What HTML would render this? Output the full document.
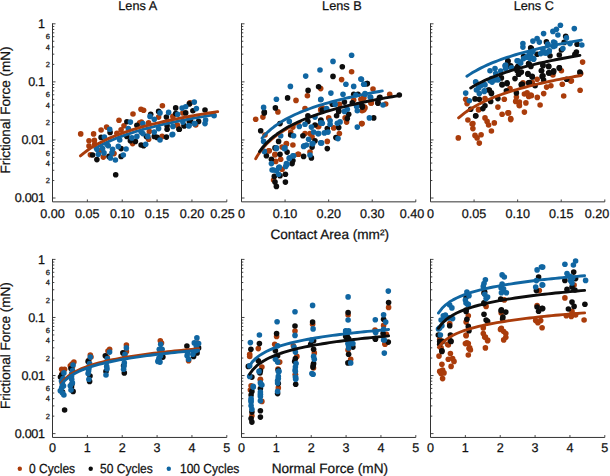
<!DOCTYPE html>
<html><head><meta charset="utf-8"><style>
html,body{margin:0;padding:0;background:#fff;}
svg{display:block;}
text{font-family:"Liberation Sans", sans-serif;fill:#111;stroke:#111;stroke-width:0.25px;text-rendering:geometricPrecision;}
</style></head><body>
<svg width="610" height="476" viewBox="0 0 610 476">
<path d="M52.50 23.30V201.85H226.80" fill="none" stroke="#333333" stroke-width="1"/>
<path d="M52.50 23.80h3 M52.50 81.87h3 M52.50 139.94h3 M52.50 198.01h3 M52.50 64.39h1.8 M52.50 54.16h1.8 M52.50 46.91h1.8 M52.50 41.28h1.8 M52.50 36.68h1.8 M52.50 32.80h1.8 M52.50 29.43h1.8 M52.50 26.46h1.8 M52.50 122.46h1.8 M52.50 112.23h1.8 M52.50 104.98h1.8 M52.50 99.35h1.8 M52.50 94.75h1.8 M52.50 90.87h1.8 M52.50 87.50h1.8 M52.50 84.53h1.8 M52.50 180.53h1.8 M52.50 170.30h1.8 M52.50 163.05h1.8 M52.50 157.42h1.8 M52.50 152.82h1.8 M52.50 148.94h1.8 M52.50 145.57h1.8 M52.50 142.60h1.8 M87.36 201.85v-2.4 M122.22 201.85v-2.4 M157.08 201.85v-2.4 M191.94 201.85v-2.4 M226.80 201.85v-2.4" fill="none" stroke="#333333" stroke-width="0.9"/>
<text x="52.50" y="218.20" text-anchor="middle" font-size="12.6">0.00</text>
<text x="87.36" y="218.20" text-anchor="middle" font-size="12.6">0.05</text>
<text x="122.22" y="218.20" text-anchor="middle" font-size="12.6">0.10</text>
<text x="157.08" y="218.20" text-anchor="middle" font-size="12.6">0.15</text>
<text x="191.94" y="218.20" text-anchor="middle" font-size="12.6">0.20</text>
<text x="222.50" y="218.20" text-anchor="middle" font-size="12.6">0.25</text>
<text x="44.6" y="27.91" text-anchor="end" font-size="12.6" letter-spacing="-0.35">1</text>
<text x="44.6" y="85.98" text-anchor="end" font-size="12.6" letter-spacing="-0.35">0.1</text>
<text x="44.6" y="144.05" text-anchor="end" font-size="12.6" letter-spacing="-0.35">0.01</text>
<text x="44.6" y="202.12" text-anchor="end" font-size="12.6" letter-spacing="-0.35">0.001</text>
<text x="49.9" y="67.07" text-anchor="end" font-size="7.5">2</text>
<text x="49.9" y="49.59" text-anchor="end" font-size="7.5">4</text>
<text x="49.9" y="39.37" text-anchor="end" font-size="7.5">6</text>
<text x="49.9" y="125.14" text-anchor="end" font-size="7.5">2</text>
<text x="49.9" y="107.66" text-anchor="end" font-size="7.5">4</text>
<text x="49.9" y="97.44" text-anchor="end" font-size="7.5">6</text>
<text x="49.9" y="183.21" text-anchor="end" font-size="7.5">2</text>
<text x="49.9" y="165.73" text-anchor="end" font-size="7.5">4</text>
<text x="49.9" y="155.51" text-anchor="end" font-size="7.5">6</text>
<path d="M241.50 23.30V201.85H415.80" fill="none" stroke="#333333" stroke-width="1"/>
<path d="M241.50 23.80h3 M241.50 81.87h3 M241.50 139.94h3 M241.50 198.01h3 M241.50 64.39h1.8 M241.50 54.16h1.8 M241.50 46.91h1.8 M241.50 41.28h1.8 M241.50 36.68h1.8 M241.50 32.80h1.8 M241.50 29.43h1.8 M241.50 26.46h1.8 M241.50 122.46h1.8 M241.50 112.23h1.8 M241.50 104.98h1.8 M241.50 99.35h1.8 M241.50 94.75h1.8 M241.50 90.87h1.8 M241.50 87.50h1.8 M241.50 84.53h1.8 M241.50 180.53h1.8 M241.50 170.30h1.8 M241.50 163.05h1.8 M241.50 157.42h1.8 M241.50 152.82h1.8 M241.50 148.94h1.8 M241.50 145.57h1.8 M241.50 142.60h1.8 M285.07 201.85v-2.4 M328.65 201.85v-2.4 M372.23 201.85v-2.4 M415.80 201.85v-2.4" fill="none" stroke="#333333" stroke-width="0.9"/>
<text x="241.50" y="218.20" text-anchor="middle" font-size="12.6">0</text>
<text x="285.07" y="218.20" text-anchor="middle" font-size="12.6">0.10</text>
<text x="328.65" y="218.20" text-anchor="middle" font-size="12.6">0.20</text>
<text x="372.23" y="218.20" text-anchor="middle" font-size="12.6">0.30</text>
<text x="412.00" y="218.20" text-anchor="middle" font-size="12.6">0.40</text>
<path d="M430.50 23.30V201.85H604.80" fill="none" stroke="#333333" stroke-width="1"/>
<path d="M430.50 23.80h3 M430.50 81.87h3 M430.50 139.94h3 M430.50 198.01h3 M430.50 64.39h1.8 M430.50 54.16h1.8 M430.50 46.91h1.8 M430.50 41.28h1.8 M430.50 36.68h1.8 M430.50 32.80h1.8 M430.50 29.43h1.8 M430.50 26.46h1.8 M430.50 122.46h1.8 M430.50 112.23h1.8 M430.50 104.98h1.8 M430.50 99.35h1.8 M430.50 94.75h1.8 M430.50 90.87h1.8 M430.50 87.50h1.8 M430.50 84.53h1.8 M430.50 180.53h1.8 M430.50 170.30h1.8 M430.50 163.05h1.8 M430.50 157.42h1.8 M430.50 152.82h1.8 M430.50 148.94h1.8 M430.50 145.57h1.8 M430.50 142.60h1.8 M474.07 201.85v-2.4 M517.65 201.85v-2.4 M561.23 201.85v-2.4 M604.80 201.85v-2.4" fill="none" stroke="#333333" stroke-width="0.9"/>
<text x="430.50" y="218.20" text-anchor="middle" font-size="12.6">0</text>
<text x="474.07" y="218.20" text-anchor="middle" font-size="12.6">0.05</text>
<text x="517.65" y="218.20" text-anchor="middle" font-size="12.6">0.10</text>
<text x="561.23" y="218.20" text-anchor="middle" font-size="12.6">0.15</text>
<text x="597.00" y="218.20" text-anchor="middle" font-size="12.6">0.20</text>
<path d="M52.50 258.90V437.45H226.80" fill="none" stroke="#333333" stroke-width="1"/>
<path d="M52.50 259.40h3 M52.50 317.47h3 M52.50 375.54h3 M52.50 433.61h3 M52.50 299.99h1.8 M52.50 289.76h1.8 M52.50 282.51h1.8 M52.50 276.88h1.8 M52.50 272.28h1.8 M52.50 268.40h1.8 M52.50 265.03h1.8 M52.50 262.06h1.8 M52.50 358.06h1.8 M52.50 347.83h1.8 M52.50 340.58h1.8 M52.50 334.95h1.8 M52.50 330.35h1.8 M52.50 326.47h1.8 M52.50 323.10h1.8 M52.50 320.13h1.8 M52.50 416.13h1.8 M52.50 405.90h1.8 M52.50 398.65h1.8 M52.50 393.02h1.8 M52.50 388.42h1.8 M52.50 384.54h1.8 M52.50 381.17h1.8 M52.50 378.20h1.8 M87.36 437.45v-2.4 M122.22 437.45v-2.4 M157.08 437.45v-2.4 M191.94 437.45v-2.4 M226.80 437.45v-2.4" fill="none" stroke="#333333" stroke-width="0.9"/>
<text x="52.50" y="452.00" text-anchor="middle" font-size="12.6">0</text>
<text x="87.36" y="452.00" text-anchor="middle" font-size="12.6">1</text>
<text x="122.22" y="452.00" text-anchor="middle" font-size="12.6">2</text>
<text x="157.08" y="452.00" text-anchor="middle" font-size="12.6">3</text>
<text x="191.94" y="452.00" text-anchor="middle" font-size="12.6">4</text>
<text x="226.80" y="452.00" text-anchor="middle" font-size="12.6">5</text>
<text x="44.6" y="263.51" text-anchor="end" font-size="12.6" letter-spacing="-0.35">1</text>
<text x="44.6" y="321.58" text-anchor="end" font-size="12.6" letter-spacing="-0.35">0.1</text>
<text x="44.6" y="379.65" text-anchor="end" font-size="12.6" letter-spacing="-0.35">0.01</text>
<text x="44.6" y="437.72" text-anchor="end" font-size="12.6" letter-spacing="-0.35">0.001</text>
<text x="49.9" y="302.67" text-anchor="end" font-size="7.5">2</text>
<text x="49.9" y="285.19" text-anchor="end" font-size="7.5">4</text>
<text x="49.9" y="274.97" text-anchor="end" font-size="7.5">6</text>
<text x="49.9" y="360.74" text-anchor="end" font-size="7.5">2</text>
<text x="49.9" y="343.26" text-anchor="end" font-size="7.5">4</text>
<text x="49.9" y="333.04" text-anchor="end" font-size="7.5">6</text>
<text x="49.9" y="418.81" text-anchor="end" font-size="7.5">2</text>
<text x="49.9" y="401.33" text-anchor="end" font-size="7.5">4</text>
<text x="49.9" y="391.11" text-anchor="end" font-size="7.5">6</text>
<path d="M241.50 258.90V437.45H415.80" fill="none" stroke="#333333" stroke-width="1"/>
<path d="M241.50 259.40h3 M241.50 317.47h3 M241.50 375.54h3 M241.50 433.61h3 M241.50 299.99h1.8 M241.50 289.76h1.8 M241.50 282.51h1.8 M241.50 276.88h1.8 M241.50 272.28h1.8 M241.50 268.40h1.8 M241.50 265.03h1.8 M241.50 262.06h1.8 M241.50 358.06h1.8 M241.50 347.83h1.8 M241.50 340.58h1.8 M241.50 334.95h1.8 M241.50 330.35h1.8 M241.50 326.47h1.8 M241.50 323.10h1.8 M241.50 320.13h1.8 M241.50 416.13h1.8 M241.50 405.90h1.8 M241.50 398.65h1.8 M241.50 393.02h1.8 M241.50 388.42h1.8 M241.50 384.54h1.8 M241.50 381.17h1.8 M241.50 378.20h1.8 M276.36 437.45v-2.4 M311.22 437.45v-2.4 M346.08 437.45v-2.4 M380.94 437.45v-2.4 M415.80 437.45v-2.4" fill="none" stroke="#333333" stroke-width="0.9"/>
<text x="241.50" y="452.00" text-anchor="middle" font-size="12.6">0</text>
<text x="276.36" y="452.00" text-anchor="middle" font-size="12.6">1</text>
<text x="311.22" y="452.00" text-anchor="middle" font-size="12.6">2</text>
<text x="346.08" y="452.00" text-anchor="middle" font-size="12.6">3</text>
<text x="380.94" y="452.00" text-anchor="middle" font-size="12.6">4</text>
<text x="415.80" y="452.00" text-anchor="middle" font-size="12.6">5</text>
<path d="M430.50 258.90V437.45H604.80" fill="none" stroke="#333333" stroke-width="1"/>
<path d="M430.50 259.40h3 M430.50 317.47h3 M430.50 375.54h3 M430.50 433.61h3 M430.50 299.99h1.8 M430.50 289.76h1.8 M430.50 282.51h1.8 M430.50 276.88h1.8 M430.50 272.28h1.8 M430.50 268.40h1.8 M430.50 265.03h1.8 M430.50 262.06h1.8 M430.50 358.06h1.8 M430.50 347.83h1.8 M430.50 340.58h1.8 M430.50 334.95h1.8 M430.50 330.35h1.8 M430.50 326.47h1.8 M430.50 323.10h1.8 M430.50 320.13h1.8 M430.50 416.13h1.8 M430.50 405.90h1.8 M430.50 398.65h1.8 M430.50 393.02h1.8 M430.50 388.42h1.8 M430.50 384.54h1.8 M430.50 381.17h1.8 M430.50 378.20h1.8 M465.36 437.45v-2.4 M500.22 437.45v-2.4 M535.08 437.45v-2.4 M569.94 437.45v-2.4 M604.80 437.45v-2.4" fill="none" stroke="#333333" stroke-width="0.9"/>
<text x="430.50" y="452.00" text-anchor="middle" font-size="12.6">0</text>
<text x="465.36" y="452.00" text-anchor="middle" font-size="12.6">1</text>
<text x="500.22" y="452.00" text-anchor="middle" font-size="12.6">2</text>
<text x="535.08" y="452.00" text-anchor="middle" font-size="12.6">3</text>
<text x="569.94" y="452.00" text-anchor="middle" font-size="12.6">4</text>
<text x="604.80" y="452.00" text-anchor="middle" font-size="12.6">5</text>
<text x="118.3" y="10.2" font-size="12.7">Lens A</text>
<text x="322.1" y="10.2" font-size="12.7">Lens B</text>
<text x="513.7" y="10.2" font-size="12.7">Lens C</text>
<text x="270.4" y="238.6" font-size="13.6">Contact Area (mm²)</text>
<text x="271.7" y="472.8" font-size="13.6">Normal Force (mN)</text>
<text transform="translate(9.9 110.00) rotate(-90)" text-anchor="middle" font-size="13.5">Frictional Force (mN)</text>
<text transform="translate(9.9 345.60) rotate(-90)" text-anchor="middle" font-size="13.5">Frictional Force (mN)</text>
<circle cx="19.8" cy="468.7" r="2.2" fill="#aa3c0b"/><text transform="translate(29.1 473.3) scale(1 1.1)" font-size="12">0 Cycles</text>
<circle cx="90.7" cy="468.7" r="2.2" fill="#0d0d0d"/><text transform="translate(100.1 473.3) scale(1 1.1)" font-size="12">50 Cycles</text>
<circle cx="168.8" cy="468.7" r="2.2" fill="#1066a2"/><text transform="translate(180 473.3) scale(1 1.1)" font-size="12">100 Cycles</text>
<g fill="#aa3c0b"><circle cx="80.7" cy="133.9" r="2.8"/><circle cx="93.6" cy="133.9" r="2.8"/><circle cx="119" cy="120.3" r="2.8"/><circle cx="133" cy="114" r="2.8"/><circle cx="106.6" cy="127.1" r="2.8"/><circle cx="101.1" cy="130" r="2.8"/><circle cx="89" cy="140.7" r="2.8"/><circle cx="94.4" cy="140.4" r="2.8"/><circle cx="89" cy="146.1" r="2.8"/><circle cx="94.7" cy="144.3" r="2.8"/><circle cx="124" cy="125.7" r="2.8"/><circle cx="121.1" cy="129.7" r="2.8"/><circle cx="116.9" cy="133.3" r="2.8"/><circle cx="139.7" cy="122.9" r="2.8"/><circle cx="90.4" cy="154.7" r="2.8"/><circle cx="103.3" cy="157.1" r="2.8"/><circle cx="114" cy="153.6" r="2.8"/><circle cx="132.6" cy="143.6" r="2.8"/><circle cx="99.7" cy="150.7" r="2.8"/><circle cx="141" cy="109.3" r="2.8"/><circle cx="143.6" cy="110.3" r="2.8"/><circle cx="162.4" cy="105.7" r="2.8"/><circle cx="190" cy="102.9" r="2.8"/><circle cx="158.6" cy="117.1" r="2.8"/><circle cx="148.6" cy="122.9" r="2.8"/><circle cx="172.9" cy="116.4" r="2.8"/><circle cx="182.9" cy="112.9" r="2.8"/><circle cx="177.1" cy="125" r="2.8"/><circle cx="148.6" cy="139.3" r="2.8"/><circle cx="162.1" cy="136.4" r="2.8"/><circle cx="195.7" cy="125" r="2.8"/><circle cx="141.4" cy="122.1" r="2.8"/><circle cx="149.3" cy="131.4" r="2.8"/><circle cx="177.7" cy="125.7" r="2.8"/><circle cx="189.9" cy="103.2" r="2.8"/></g>
<g fill="#0d0d0d"><circle cx="126.9" cy="121.7" r="2.8"/><circle cx="110.1" cy="132.4" r="2.8"/><circle cx="101.1" cy="137.4" r="2.8"/><circle cx="136.9" cy="125.3" r="2.8"/><circle cx="126.9" cy="136.4" r="2.8"/><circle cx="135.4" cy="141.4" r="2.8"/><circle cx="130.4" cy="140.7" r="2.8"/><circle cx="92.6" cy="155" r="2.8"/><circle cx="96.9" cy="159.6" r="2.8"/><circle cx="121.1" cy="156.4" r="2.8"/><circle cx="121.1" cy="148.6" r="2.8"/><circle cx="109" cy="156.4" r="2.8"/><circle cx="141.1" cy="145" r="2.8"/><circle cx="115.7" cy="174.7" r="2.8"/><circle cx="150.7" cy="114.3" r="2.8"/><circle cx="158.6" cy="111.4" r="2.8"/><circle cx="175.7" cy="107.9" r="2.8"/><circle cx="175.7" cy="113.6" r="2.8"/><circle cx="189.3" cy="103.9" r="2.8"/><circle cx="192.9" cy="110.7" r="2.8"/><circle cx="205" cy="110" r="2.8"/><circle cx="166.4" cy="117.1" r="2.8"/><circle cx="185.7" cy="112.9" r="2.8"/><circle cx="167.1" cy="125.7" r="2.8"/><circle cx="167.1" cy="129.3" r="2.8"/><circle cx="179.3" cy="129.3" r="2.8"/><circle cx="184.3" cy="125.7" r="2.8"/><circle cx="189.3" cy="121.4" r="2.8"/><circle cx="198.6" cy="121.4" r="2.8"/><circle cx="154.3" cy="136.4" r="2.8"/><circle cx="157.1" cy="137.4" r="2.8"/><circle cx="166.4" cy="137.1" r="2.8"/><circle cx="146.4" cy="136.4" r="2.8"/><circle cx="143.6" cy="145.7" r="2.8"/><circle cx="190.6" cy="121.4" r="2.8"/><circle cx="184.1" cy="125.7" r="2.8"/><circle cx="179.1" cy="129.3" r="2.8"/></g>
<g fill="#1066a2"><circle cx="130.4" cy="122.1" r="2.8"/><circle cx="109.7" cy="129.3" r="2.8"/><circle cx="104.4" cy="137.1" r="2.8"/><circle cx="128.3" cy="128.6" r="2.8"/><circle cx="131.9" cy="137.9" r="2.8"/><circle cx="136.9" cy="136.4" r="2.8"/><circle cx="119.7" cy="140" r="2.8"/><circle cx="96.9" cy="149.3" r="2.8"/><circle cx="102.6" cy="148.6" r="2.8"/><circle cx="108.3" cy="145.7" r="2.8"/><circle cx="112.6" cy="149.3" r="2.8"/><circle cx="118.3" cy="146.4" r="2.8"/><circle cx="126.1" cy="149" r="2.8"/><circle cx="98.3" cy="154.3" r="2.8"/><circle cx="104" cy="152.9" r="2.8"/><circle cx="111.9" cy="152.9" r="2.8"/><circle cx="110.4" cy="157.9" r="2.8"/><circle cx="115.4" cy="160" r="2.8"/><circle cx="123.3" cy="155" r="2.8"/><circle cx="141.1" cy="132.1" r="2.8"/><circle cx="106.9" cy="144.3" r="2.8"/><circle cx="194.3" cy="102.1" r="2.8"/><circle cx="182.1" cy="108.1" r="2.8"/><circle cx="185.7" cy="106.7" r="2.8"/><circle cx="196.4" cy="108.6" r="2.8"/><circle cx="160" cy="112.9" r="2.8"/><circle cx="168.6" cy="112.4" r="2.8"/><circle cx="150" cy="116.4" r="2.8"/><circle cx="154.3" cy="119.3" r="2.8"/><circle cx="142.9" cy="123.6" r="2.8"/><circle cx="182.9" cy="122.1" r="2.8"/><circle cx="188.6" cy="125.7" r="2.8"/><circle cx="194.3" cy="123.6" r="2.8"/><circle cx="205" cy="123.6" r="2.8"/><circle cx="205.6" cy="120" r="2.8"/><circle cx="172.9" cy="126.4" r="2.8"/><circle cx="158.6" cy="128.6" r="2.8"/><circle cx="154.3" cy="132.1" r="2.8"/><circle cx="142.9" cy="133.6" r="2.8"/><circle cx="147.9" cy="136.4" r="2.8"/><circle cx="172.1" cy="134.7" r="2.8"/><circle cx="160" cy="140" r="2.8"/><circle cx="145.7" cy="144.3" r="2.8"/><circle cx="214.1" cy="115.7" r="2.8"/><circle cx="194.9" cy="123.6" r="2.8"/><circle cx="189.1" cy="125.7" r="2.8"/><circle cx="177.7" cy="114.3" r="2.8"/><circle cx="172.7" cy="134.3" r="2.8"/></g>
<g fill="#aa3c0b"><circle cx="320.7" cy="88.6" r="2.8"/><circle cx="307.4" cy="95.7" r="2.8"/><circle cx="296" cy="100.4" r="2.8"/><circle cx="277.9" cy="111.9" r="2.8"/><circle cx="305" cy="108.6" r="2.8"/><circle cx="262.9" cy="117.1" r="2.8"/><circle cx="255.7" cy="119.3" r="2.8"/><circle cx="292.9" cy="127.1" r="2.8"/><circle cx="290.7" cy="132.1" r="2.8"/><circle cx="305" cy="133.6" r="2.8"/><circle cx="310" cy="133.6" r="2.8"/><circle cx="317.9" cy="126.4" r="2.8"/><circle cx="320.7" cy="110" r="2.8"/><circle cx="265" cy="135" r="2.8"/><circle cx="286.4" cy="143.6" r="2.8"/><circle cx="292.9" cy="145" r="2.8"/><circle cx="282.1" cy="147.1" r="2.8"/><circle cx="269.3" cy="150.7" r="2.8"/><circle cx="275" cy="155" r="2.8"/><circle cx="310" cy="152.1" r="2.8"/><circle cx="297.9" cy="154.3" r="2.8"/><circle cx="280.7" cy="159.3" r="2.8"/><circle cx="275.7" cy="161.4" r="2.8"/><circle cx="282.1" cy="169.3" r="2.8"/><circle cx="312.1" cy="137.1" r="2.8"/><circle cx="286.4" cy="144" r="2.8"/><circle cx="268.6" cy="150.7" r="2.8"/><circle cx="275" cy="154.3" r="2.8"/><circle cx="273.6" cy="180" r="2.8"/><circle cx="298.6" cy="154.3" r="2.8"/><circle cx="351.6" cy="71.7" r="2.8"/><circle cx="341.6" cy="79.6" r="2.8"/><circle cx="373" cy="89" r="2.8"/><circle cx="363.7" cy="97.9" r="2.8"/><circle cx="360.9" cy="99.3" r="2.8"/><circle cx="370.9" cy="102.9" r="2.8"/><circle cx="339.4" cy="104.3" r="2.8"/><circle cx="364.4" cy="107.1" r="2.8"/><circle cx="322.3" cy="107.9" r="2.8"/><circle cx="353.7" cy="100" r="2.8"/><circle cx="320.9" cy="109.3" r="2.8"/><circle cx="328.7" cy="117.9" r="2.8"/><circle cx="345.1" cy="117.9" r="2.8"/><circle cx="346.6" cy="122.1" r="2.8"/><circle cx="318.7" cy="126.4" r="2.8"/><circle cx="333.7" cy="127.9" r="2.8"/><circle cx="339.4" cy="133.6" r="2.8"/><circle cx="361.6" cy="123.6" r="2.8"/><circle cx="363.7" cy="110" r="2.8"/><circle cx="327.3" cy="141.4" r="2.8"/><circle cx="389.7" cy="94.3" r="2.8"/><circle cx="363.6" cy="97.9" r="2.8"/><circle cx="371.4" cy="102.9" r="2.8"/><circle cx="385.7" cy="104" r="2.8"/><circle cx="365" cy="107.9" r="2.8"/><circle cx="362.1" cy="110.7" r="2.8"/><circle cx="362.1" cy="123.6" r="2.8"/></g>
<g fill="#0d0d0d"><circle cx="318.6" cy="86.7" r="2.8"/><circle cx="308.1" cy="90.4" r="2.8"/><circle cx="287.6" cy="97.9" r="2.8"/><circle cx="275.4" cy="107.9" r="2.8"/><circle cx="264.3" cy="112.1" r="2.8"/><circle cx="264.3" cy="112.9" r="2.8"/><circle cx="260.7" cy="130.7" r="2.8"/><circle cx="280" cy="123.6" r="2.8"/><circle cx="307.9" cy="115.7" r="2.8"/><circle cx="307.9" cy="121.4" r="2.8"/><circle cx="320.7" cy="120.7" r="2.8"/><circle cx="315" cy="125" r="2.8"/><circle cx="290.7" cy="135" r="2.8"/><circle cx="302.9" cy="135.7" r="2.8"/><circle cx="278.6" cy="141.4" r="2.8"/><circle cx="315" cy="140.7" r="2.8"/><circle cx="275" cy="147.9" r="2.8"/><circle cx="287.1" cy="152.1" r="2.8"/><circle cx="280" cy="154.3" r="2.8"/><circle cx="266.4" cy="155.7" r="2.8"/><circle cx="312.1" cy="147.1" r="2.8"/><circle cx="303.6" cy="156.4" r="2.8"/><circle cx="271.4" cy="159.3" r="2.8"/><circle cx="311.4" cy="157.9" r="2.8"/><circle cx="292.9" cy="160.6" r="2.8"/><circle cx="292.1" cy="163.6" r="2.8"/><circle cx="274.3" cy="176.4" r="2.8"/><circle cx="275" cy="182.1" r="2.8"/><circle cx="276.4" cy="186.4" r="2.8"/><circle cx="285.4" cy="174.3" r="2.8"/><circle cx="285.4" cy="182.1" r="2.8"/><circle cx="280" cy="175.7" r="2.8"/><circle cx="342.3" cy="66.7" r="2.8"/><circle cx="333" cy="76.4" r="2.8"/><circle cx="367.3" cy="83.6" r="2.8"/><circle cx="353.7" cy="94.3" r="2.8"/><circle cx="358" cy="94.3" r="2.8"/><circle cx="344.4" cy="102.1" r="2.8"/><circle cx="352.3" cy="102.9" r="2.8"/><circle cx="361.6" cy="105.7" r="2.8"/><circle cx="378" cy="102.9" r="2.8"/><circle cx="379.4" cy="97.9" r="2.8"/><circle cx="332.3" cy="104.3" r="2.8"/><circle cx="322.3" cy="110" r="2.8"/><circle cx="338.7" cy="110.7" r="2.8"/><circle cx="338.7" cy="111.4" r="2.8"/><circle cx="336.6" cy="115.7" r="2.8"/><circle cx="348.7" cy="114.3" r="2.8"/><circle cx="347.3" cy="118.6" r="2.8"/><circle cx="320.9" cy="120" r="2.8"/><circle cx="338.7" cy="127.6" r="2.8"/><circle cx="327.3" cy="128.6" r="2.8"/><circle cx="373.7" cy="117.9" r="2.8"/><circle cx="335.9" cy="137.6" r="2.8"/><circle cx="327.3" cy="148.6" r="2.8"/><circle cx="362.3" cy="107.1" r="2.8"/><circle cx="367.1" cy="83.6" r="2.8"/><circle cx="380" cy="97.4" r="2.8"/><circle cx="377.9" cy="103.1" r="2.8"/><circle cx="399.3" cy="95" r="2.8"/><circle cx="362.1" cy="105.7" r="2.8"/></g>
<g fill="#1066a2"><circle cx="320" cy="70" r="2.8"/><circle cx="305.7" cy="76.1" r="2.8"/><circle cx="290.4" cy="86.4" r="2.8"/><circle cx="276.4" cy="99.3" r="2.8"/><circle cx="263.6" cy="107.4" r="2.8"/><circle cx="320.7" cy="99.7" r="2.8"/><circle cx="289.3" cy="121.4" r="2.8"/><circle cx="299.3" cy="126.4" r="2.8"/><circle cx="305" cy="124.3" r="2.8"/><circle cx="311.4" cy="127.1" r="2.8"/><circle cx="315" cy="117.1" r="2.8"/><circle cx="320.7" cy="122.9" r="2.8"/><circle cx="280.7" cy="135.7" r="2.8"/><circle cx="293.6" cy="135.7" r="2.8"/><circle cx="263.6" cy="141.4" r="2.8"/><circle cx="308.6" cy="139.3" r="2.8"/><circle cx="313.6" cy="132.1" r="2.8"/><circle cx="317.9" cy="133.6" r="2.8"/><circle cx="320.7" cy="142.9" r="2.8"/><circle cx="312.1" cy="143.6" r="2.8"/><circle cx="303.6" cy="146.4" r="2.8"/><circle cx="276.4" cy="147.9" r="2.8"/><circle cx="285" cy="147.9" r="2.8"/><circle cx="264.3" cy="151.4" r="2.8"/><circle cx="293.6" cy="155.7" r="2.8"/><circle cx="289.3" cy="158.6" r="2.8"/><circle cx="310" cy="155" r="2.8"/><circle cx="271.4" cy="163.6" r="2.8"/><circle cx="286.4" cy="163.6" r="2.8"/><circle cx="273.6" cy="170" r="2.8"/><circle cx="278.6" cy="167.9" r="2.8"/><circle cx="276.4" cy="148.6" r="2.8"/><circle cx="284.3" cy="148.6" r="2.8"/><circle cx="272.1" cy="170" r="2.8"/><circle cx="276.4" cy="170.7" r="2.8"/><circle cx="278.6" cy="174.3" r="2.8"/><circle cx="279.3" cy="167.1" r="2.8"/><circle cx="287.1" cy="164.3" r="2.8"/><circle cx="285.7" cy="166.4" r="2.8"/><circle cx="289.3" cy="157.9" r="2.8"/><circle cx="292.9" cy="155.7" r="2.8"/><circle cx="304.3" cy="145.7" r="2.8"/><circle cx="306.5" cy="145" r="2.8"/><circle cx="312.9" cy="143.6" r="2.8"/><circle cx="351.6" cy="55.3" r="2.8"/><circle cx="333" cy="61.4" r="2.8"/><circle cx="360.9" cy="79" r="2.8"/><circle cx="345.9" cy="84.3" r="2.8"/><circle cx="353.7" cy="86.4" r="2.8"/><circle cx="363.7" cy="84.3" r="2.8"/><circle cx="330.9" cy="93.1" r="2.8"/><circle cx="343" cy="94.3" r="2.8"/><circle cx="320.9" cy="99.3" r="2.8"/><circle cx="355.9" cy="95" r="2.8"/><circle cx="365.1" cy="94.3" r="2.8"/><circle cx="370.1" cy="97.1" r="2.8"/><circle cx="383" cy="105" r="2.8"/><circle cx="335.1" cy="104.3" r="2.8"/><circle cx="356.6" cy="106.4" r="2.8"/><circle cx="326.6" cy="108.6" r="2.8"/><circle cx="326.6" cy="109.3" r="2.8"/><circle cx="344.4" cy="111.4" r="2.8"/><circle cx="357.3" cy="110.7" r="2.8"/><circle cx="369.4" cy="117.9" r="2.8"/><circle cx="357.3" cy="127.1" r="2.8"/><circle cx="322.3" cy="123.3" r="2.8"/><circle cx="330.1" cy="120.7" r="2.8"/><circle cx="330.1" cy="124.3" r="2.8"/><circle cx="337.3" cy="123.3" r="2.8"/><circle cx="340.1" cy="121.9" r="2.8"/><circle cx="324.4" cy="132.9" r="2.8"/><circle cx="328" cy="132.1" r="2.8"/><circle cx="318.7" cy="133.6" r="2.8"/><circle cx="338" cy="138.6" r="2.8"/><circle cx="321.6" cy="142.9" r="2.8"/><circle cx="347.3" cy="109.3" r="2.8"/><circle cx="361.4" cy="79.3" r="2.8"/><circle cx="364.3" cy="84.3" r="2.8"/><circle cx="365" cy="93.6" r="2.8"/><circle cx="370.7" cy="97.4" r="2.8"/></g>
<g fill="#aa3c0b"><circle cx="465.7" cy="99.3" r="2.8"/><circle cx="467.1" cy="103.6" r="2.8"/><circle cx="478.6" cy="109.3" r="2.8"/><circle cx="485" cy="98.6" r="2.8"/><circle cx="497.9" cy="107.1" r="2.8"/><circle cx="504.3" cy="99.3" r="2.8"/><circle cx="502.1" cy="114.3" r="2.8"/><circle cx="508.6" cy="112.9" r="2.8"/><circle cx="510.7" cy="118.6" r="2.8"/><circle cx="510" cy="88.6" r="2.8"/><circle cx="516.4" cy="97.1" r="2.8"/><circle cx="515.7" cy="101.4" r="2.8"/><circle cx="519.3" cy="105" r="2.8"/><circle cx="467.9" cy="120" r="2.8"/><circle cx="472.9" cy="123.6" r="2.8"/><circle cx="485" cy="117.9" r="2.8"/><circle cx="487.1" cy="121.4" r="2.8"/><circle cx="488.6" cy="125" r="2.8"/><circle cx="494.3" cy="122.9" r="2.8"/><circle cx="561.4" cy="70.7" r="2.8"/><circle cx="552.9" cy="75" r="2.8"/><circle cx="537.1" cy="79.3" r="2.8"/><circle cx="582.6" cy="62.1" r="2.8"/><circle cx="571.4" cy="80.7" r="2.8"/><circle cx="580.7" cy="73.6" r="2.8"/><circle cx="472.9" cy="128.6" r="2.8"/><circle cx="475" cy="135.4" r="2.8"/><circle cx="477.1" cy="137.9" r="2.8"/><circle cx="481.1" cy="134.7" r="2.8"/><circle cx="479.3" cy="143.1" r="2.8"/><circle cx="458.3" cy="137.9" r="2.8"/><circle cx="491.4" cy="131" r="2.8"/><circle cx="478.6" cy="110" r="2.8"/><circle cx="472.1" cy="124" r="2.8"/><circle cx="507.9" cy="112.9" r="2.8"/><circle cx="510.7" cy="119.6" r="2.8"/><circle cx="523" cy="82.9" r="2.8"/><circle cx="532.3" cy="82.6" r="2.8"/><circle cx="546.6" cy="87.1" r="2.8"/><circle cx="550.9" cy="85.7" r="2.8"/><circle cx="562.3" cy="84.3" r="2.8"/><circle cx="570.9" cy="81.1" r="2.8"/><circle cx="580.1" cy="90.3" r="2.8"/><circle cx="524.4" cy="94" r="2.8"/><circle cx="528.7" cy="96.4" r="2.8"/><circle cx="530.9" cy="95" r="2.8"/><circle cx="543.7" cy="93.6" r="2.8"/><circle cx="537.3" cy="97.4" r="2.8"/><circle cx="563.7" cy="96" r="2.8"/><circle cx="519.4" cy="102.1" r="2.8"/><circle cx="525.9" cy="102.9" r="2.8"/><circle cx="519.4" cy="105.7" r="2.8"/><circle cx="540.1" cy="105" r="2.8"/><circle cx="524.4" cy="112.1" r="2.8"/><circle cx="527.1" cy="92.9" r="2.8"/><circle cx="531.4" cy="95.7" r="2.8"/></g>
<g fill="#0d0d0d"><circle cx="507.9" cy="61.4" r="2.8"/><circle cx="510" cy="66.4" r="2.8"/><circle cx="516.4" cy="68.6" r="2.8"/><circle cx="518.6" cy="74.3" r="2.8"/><circle cx="515" cy="78.6" r="2.8"/><circle cx="501.4" cy="77.9" r="2.8"/><circle cx="502.1" cy="85" r="2.8"/><circle cx="507.1" cy="82.9" r="2.8"/><circle cx="489.3" cy="90" r="2.8"/><circle cx="491.4" cy="93.6" r="2.8"/><circle cx="475" cy="98.9" r="2.8"/><circle cx="479.3" cy="99.3" r="2.8"/><circle cx="485" cy="105.7" r="2.8"/><circle cx="482.9" cy="108.6" r="2.8"/><circle cx="470.7" cy="109.3" r="2.8"/><circle cx="475.7" cy="115.7" r="2.8"/><circle cx="490.7" cy="101.4" r="2.8"/><circle cx="497.9" cy="98.6" r="2.8"/><circle cx="506.4" cy="90.7" r="2.8"/><circle cx="516.4" cy="92.9" r="2.8"/><circle cx="521.4" cy="85" r="2.8"/><circle cx="546.4" cy="41.9" r="2.8"/><circle cx="565.7" cy="36.4" r="2.8"/><circle cx="577.1" cy="44.3" r="2.8"/><circle cx="576.4" cy="52.1" r="2.8"/><circle cx="561.4" cy="50" r="2.8"/><circle cx="559.3" cy="55" r="2.8"/><circle cx="550" cy="55.7" r="2.8"/><circle cx="537.1" cy="54.3" r="2.8"/><circle cx="530.7" cy="47.9" r="2.8"/><circle cx="528.6" cy="63.6" r="2.8"/><circle cx="517.9" cy="66.4" r="2.8"/><circle cx="517.1" cy="70.7" r="2.8"/><circle cx="521.4" cy="72.1" r="2.8"/><circle cx="542.9" cy="65" r="2.8"/><circle cx="548.6" cy="66.4" r="2.8"/><circle cx="541.4" cy="70.7" r="2.8"/><circle cx="549.3" cy="72.9" r="2.8"/><circle cx="559.3" cy="67.9" r="2.8"/><circle cx="527.9" cy="73.6" r="2.8"/><circle cx="532.1" cy="76.4" r="2.8"/><circle cx="542.1" cy="76.4" r="2.8"/><circle cx="543.6" cy="80" r="2.8"/><circle cx="553.6" cy="72.1" r="2.8"/><circle cx="574.9" cy="54.3" r="2.8"/><circle cx="564.1" cy="42.4" r="2.8"/><circle cx="579.9" cy="72.1" r="2.8"/><circle cx="543" cy="65.7" r="2.8"/><circle cx="548.7" cy="66.4" r="2.8"/><circle cx="541.6" cy="70.7" r="2.8"/><circle cx="553.7" cy="70.7" r="2.8"/><circle cx="559.4" cy="67.9" r="2.8"/><circle cx="548.7" cy="72.9" r="2.8"/><circle cx="543" cy="75.7" r="2.8"/><circle cx="528" cy="74.3" r="2.8"/><circle cx="532.3" cy="76.9" r="2.8"/><circle cx="529.4" cy="82.6" r="2.8"/><circle cx="522.3" cy="84.3" r="2.8"/><circle cx="535.1" cy="85.7" r="2.8"/><circle cx="566.6" cy="79.3" r="2.8"/><circle cx="580.1" cy="73.1" r="2.8"/><circle cx="530.9" cy="66.4" r="2.8"/><circle cx="518.7" cy="74.3" r="2.8"/><circle cx="507.9" cy="60.7" r="2.8"/><circle cx="510.7" cy="65.7" r="2.8"/><circle cx="517.1" cy="67.9" r="2.8"/><circle cx="529.3" cy="64.3" r="2.8"/><circle cx="531.4" cy="48.6" r="2.8"/><circle cx="523.6" cy="56.4" r="2.8"/><circle cx="502.1" cy="84.3" r="2.8"/><circle cx="507.1" cy="83.6" r="2.8"/><circle cx="521.4" cy="84.3" r="2.8"/><circle cx="488.6" cy="90" r="2.8"/><circle cx="491.4" cy="92.9" r="2.8"/><circle cx="528.6" cy="82.9" r="2.8"/><circle cx="475.7" cy="116" r="2.8"/></g>
<g fill="#1066a2"><circle cx="465.7" cy="93.1" r="2.8"/><circle cx="469.3" cy="100.7" r="2.8"/><circle cx="475.7" cy="82.1" r="2.8"/><circle cx="476.4" cy="90" r="2.8"/><circle cx="479.3" cy="93.6" r="2.8"/><circle cx="480.7" cy="85.7" r="2.8"/><circle cx="484.3" cy="90.7" r="2.8"/><circle cx="485" cy="85" r="2.8"/><circle cx="490" cy="70.7" r="2.8"/><circle cx="495" cy="68.6" r="2.8"/><circle cx="495.7" cy="73.6" r="2.8"/><circle cx="500.7" cy="71.1" r="2.8"/><circle cx="505" cy="65.7" r="2.8"/><circle cx="505.7" cy="68.6" r="2.8"/><circle cx="490" cy="80.7" r="2.8"/><circle cx="492.1" cy="82.1" r="2.8"/><circle cx="495" cy="80" r="2.8"/><circle cx="497.9" cy="80" r="2.8"/><circle cx="560.4" cy="25.3" r="2.8"/><circle cx="556.4" cy="29.3" r="2.8"/><circle cx="552.9" cy="31.4" r="2.8"/><circle cx="574.3" cy="28.6" r="2.8"/><circle cx="543.6" cy="33.6" r="2.8"/><circle cx="557.9" cy="35" r="2.8"/><circle cx="537.1" cy="38.6" r="2.8"/><circle cx="532.9" cy="41.1" r="2.8"/><circle cx="539.3" cy="42.1" r="2.8"/><circle cx="522.9" cy="43.6" r="2.8"/><circle cx="522.9" cy="47.1" r="2.8"/><circle cx="547.9" cy="44.3" r="2.8"/><circle cx="553.6" cy="42.1" r="2.8"/><circle cx="555" cy="45.7" r="2.8"/><circle cx="566.4" cy="37.9" r="2.8"/><circle cx="570" cy="43.6" r="2.8"/><circle cx="581.8" cy="45" r="2.8"/><circle cx="562.9" cy="48.6" r="2.8"/><circle cx="542.9" cy="49.3" r="2.8"/><circle cx="549.3" cy="50.7" r="2.8"/><circle cx="546.4" cy="52.9" r="2.8"/><circle cx="540.7" cy="53.6" r="2.8"/><circle cx="532.9" cy="51.4" r="2.8"/><circle cx="529.3" cy="53.6" r="2.8"/><circle cx="526.4" cy="57.1" r="2.8"/><circle cx="533.6" cy="58.6" r="2.8"/><circle cx="523.6" cy="58.6" r="2.8"/><circle cx="517.9" cy="60.7" r="2.8"/><circle cx="520.7" cy="62.9" r="2.8"/><circle cx="530.7" cy="55" r="2.8"/><circle cx="554.9" cy="42.9" r="2.8"/><circle cx="547.7" cy="44.3" r="2.8"/><circle cx="553.4" cy="46.4" r="2.8"/><circle cx="549.1" cy="51.4" r="2.8"/><circle cx="544.9" cy="52.9" r="2.8"/><circle cx="505.7" cy="65" r="2.8"/><circle cx="505.7" cy="67.9" r="2.8"/><circle cx="517.1" cy="60.7" r="2.8"/><circle cx="520" cy="62.1" r="2.8"/><circle cx="527.1" cy="57.1" r="2.8"/><circle cx="530" cy="58.6" r="2.8"/><circle cx="533.6" cy="59.3" r="2.8"/><circle cx="511.4" cy="67.9" r="2.8"/><circle cx="491.4" cy="78.6" r="2.8"/><circle cx="497.1" cy="79.3" r="2.8"/><circle cx="475.7" cy="82.1" r="2.8"/><circle cx="484.3" cy="84.3" r="2.8"/><circle cx="478.6" cy="87.9" r="2.8"/><circle cx="484.3" cy="91.4" r="2.8"/></g>
<g fill="#aa3c0b"><circle cx="61.7" cy="369.3" r="2.8"/><circle cx="64.6" cy="369.3" r="2.8"/><circle cx="63" cy="371" r="2.8"/><circle cx="73.9" cy="362.1" r="2.8"/><circle cx="70.3" cy="365.7" r="2.8"/><circle cx="72" cy="364" r="2.8"/><circle cx="90.3" cy="355" r="2.8"/><circle cx="91" cy="357" r="2.8"/><circle cx="109.6" cy="349.3" r="2.8"/><circle cx="108" cy="351" r="2.8"/><circle cx="126.4" cy="345" r="2.8"/><circle cx="126.4" cy="351.4" r="2.8"/><circle cx="160.3" cy="340.7" r="2.8"/><circle cx="161.5" cy="343" r="2.8"/><circle cx="188.6" cy="360.7" r="2.8"/><circle cx="197.5" cy="343" r="2.8"/><circle cx="62" cy="374" r="2.8"/><circle cx="72.5" cy="367" r="2.8"/><circle cx="89" cy="360" r="2.8"/><circle cx="107" cy="357" r="2.8"/></g>
<g fill="#0d0d0d"><circle cx="61.7" cy="375" r="2.8"/><circle cx="60.5" cy="377" r="2.8"/><circle cx="71" cy="368.6" r="2.8"/><circle cx="73.1" cy="391.4" r="2.8"/><circle cx="71.5" cy="387" r="2.8"/><circle cx="88.1" cy="361.4" r="2.8"/><circle cx="89.6" cy="381.4" r="2.8"/><circle cx="105.3" cy="355.7" r="2.8"/><circle cx="106" cy="371.4" r="2.8"/><circle cx="122.9" cy="352.9" r="2.8"/><circle cx="123.6" cy="365.7" r="2.8"/><circle cx="124.3" cy="372.9" r="2.8"/><circle cx="162.9" cy="357.1" r="2.8"/><circle cx="161.5" cy="355" r="2.8"/><circle cx="186.9" cy="346" r="2.8"/><circle cx="198.6" cy="347.9" r="2.8"/><circle cx="193.6" cy="356.4" r="2.8"/><circle cx="197.1" cy="352.9" r="2.8"/><circle cx="64.6" cy="410" r="2.8"/><circle cx="62.5" cy="392" r="2.8"/><circle cx="72" cy="384" r="2.8"/><circle cx="90" cy="376" r="2.8"/></g>
<g fill="#1066a2"><circle cx="63.9" cy="372.9" r="2.8"/><circle cx="63.1" cy="378.6" r="2.8"/><circle cx="62.4" cy="383.6" r="2.8"/><circle cx="61.7" cy="387.9" r="2.8"/><circle cx="60.3" cy="390.7" r="2.8"/><circle cx="63.9" cy="395" r="2.8"/><circle cx="62.5" cy="393" r="2.8"/><circle cx="61.5" cy="381" r="2.8"/><circle cx="63.5" cy="386" r="2.8"/><circle cx="73.1" cy="365" r="2.8"/><circle cx="71.7" cy="373.6" r="2.8"/><circle cx="71.7" cy="379.3" r="2.8"/><circle cx="72.4" cy="382.9" r="2.8"/><circle cx="70.3" cy="385.7" r="2.8"/><circle cx="71" cy="390" r="2.8"/><circle cx="71.5" cy="376.5" r="2.8"/><circle cx="72.5" cy="370.5" r="2.8"/><circle cx="90.3" cy="357.1" r="2.8"/><circle cx="89.6" cy="363.6" r="2.8"/><circle cx="88.9" cy="368.6" r="2.8"/><circle cx="88.1" cy="373.6" r="2.8"/><circle cx="88.9" cy="379.3" r="2.8"/><circle cx="89.3" cy="366" r="2.8"/><circle cx="88.6" cy="371" r="2.8"/><circle cx="109.6" cy="352.1" r="2.8"/><circle cx="107.4" cy="358.6" r="2.8"/><circle cx="106.7" cy="366.4" r="2.8"/><circle cx="106" cy="375" r="2.8"/><circle cx="106.5" cy="362" r="2.8"/><circle cx="107" cy="369" r="2.8"/><circle cx="126.4" cy="347.9" r="2.8"/><circle cx="125" cy="354.3" r="2.8"/><circle cx="124.3" cy="362.9" r="2.8"/><circle cx="123.6" cy="369.3" r="2.8"/><circle cx="124.5" cy="358" r="2.8"/><circle cx="124" cy="366" r="2.8"/><circle cx="160.7" cy="344.3" r="2.8"/><circle cx="159.3" cy="349.3" r="2.8"/><circle cx="162.1" cy="349.3" r="2.8"/><circle cx="160" cy="352.9" r="2.8"/><circle cx="158.6" cy="360" r="2.8"/><circle cx="160" cy="362.1" r="2.8"/><circle cx="157.9" cy="361.4" r="2.8"/><circle cx="160.5" cy="356" r="2.8"/><circle cx="159" cy="358" r="2.8"/><circle cx="187.1" cy="355.7" r="2.8"/><circle cx="188.6" cy="359.3" r="2.8"/><circle cx="187.5" cy="353" r="2.8"/><circle cx="196.9" cy="337.9" r="2.8"/><circle cx="194.3" cy="342.9" r="2.8"/><circle cx="198.6" cy="343.6" r="2.8"/><circle cx="196.4" cy="346.4" r="2.8"/><circle cx="192.9" cy="354.3" r="2.8"/><circle cx="197.1" cy="350" r="2.8"/><circle cx="195" cy="351" r="2.8"/></g>
<g fill="#aa3c0b"><circle cx="249.7" cy="354.3" r="2.8"/><circle cx="249.7" cy="356.5" r="2.8"/><circle cx="251.1" cy="385.7" r="2.8"/><circle cx="250.4" cy="390" r="2.8"/><circle cx="251.9" cy="415.7" r="2.8"/><circle cx="258.3" cy="348.6" r="2.8"/><circle cx="261.9" cy="367.1" r="2.8"/><circle cx="260.4" cy="379.3" r="2.8"/><circle cx="260.4" cy="380" r="2.8"/><circle cx="261.9" cy="401.4" r="2.8"/><circle cx="276.6" cy="336.4" r="2.8"/><circle cx="274.7" cy="344.3" r="2.8"/><circle cx="279.7" cy="362.1" r="2.8"/><circle cx="278" cy="369" r="2.8"/><circle cx="278.3" cy="387.9" r="2.8"/><circle cx="295" cy="331.1" r="2.8"/><circle cx="293.3" cy="345.7" r="2.8"/><circle cx="296.9" cy="356.4" r="2.8"/><circle cx="295.4" cy="374.3" r="2.8"/><circle cx="295.4" cy="375" r="2.8"/><circle cx="312.6" cy="324.3" r="2.8"/><circle cx="314.3" cy="352.9" r="2.8"/><circle cx="313.5" cy="368" r="2.8"/><circle cx="348.1" cy="315" r="2.8"/><circle cx="348" cy="350" r="2.8"/><circle cx="350.7" cy="359.3" r="2.8"/><circle cx="375" cy="330" r="2.8"/><circle cx="388.6" cy="307.4" r="2.8"/><circle cx="383.6" cy="325.4" r="2.8"/><circle cx="386.4" cy="334.3" r="2.8"/><circle cx="385" cy="343.6" r="2.8"/><circle cx="385" cy="344.3" r="2.8"/></g>
<g fill="#0d0d0d"><circle cx="250.9" cy="349.3" r="2.8"/><circle cx="248.3" cy="366.4" r="2.8"/><circle cx="251.9" cy="377.1" r="2.8"/><circle cx="251.9" cy="391.4" r="2.8"/><circle cx="251.1" cy="395" r="2.8"/><circle cx="251.9" cy="412.1" r="2.8"/><circle cx="251.1" cy="418.6" r="2.8"/><circle cx="251.9" cy="422.1" r="2.8"/><circle cx="259.4" cy="343.6" r="2.8"/><circle cx="258.3" cy="360.7" r="2.8"/><circle cx="260.4" cy="370.7" r="2.8"/><circle cx="260.4" cy="388.6" r="2.8"/><circle cx="260.4" cy="410.7" r="2.8"/><circle cx="260.4" cy="417.1" r="2.8"/><circle cx="260" cy="373" r="2.8"/><circle cx="276.6" cy="333.6" r="2.8"/><circle cx="275.4" cy="350.7" r="2.8"/><circle cx="277.6" cy="355.7" r="2.8"/><circle cx="278.3" cy="370" r="2.8"/><circle cx="278.3" cy="383.6" r="2.8"/><circle cx="277.6" cy="393.6" r="2.8"/><circle cx="295" cy="326" r="2.8"/><circle cx="295.4" cy="358.6" r="2.8"/><circle cx="294.7" cy="361.4" r="2.8"/><circle cx="295.7" cy="384.3" r="2.8"/><circle cx="312.6" cy="322.1" r="2.8"/><circle cx="313.6" cy="340.7" r="2.8"/><circle cx="310.7" cy="344.3" r="2.8"/><circle cx="313.6" cy="349.3" r="2.8"/><circle cx="313.6" cy="363.6" r="2.8"/><circle cx="312.9" cy="367.1" r="2.8"/><circle cx="313.3" cy="365" r="2.8"/><circle cx="348.1" cy="312.6" r="2.8"/><circle cx="347.1" cy="335.7" r="2.8"/><circle cx="345.7" cy="336.4" r="2.8"/><circle cx="348.6" cy="338.6" r="2.8"/><circle cx="352.9" cy="347.1" r="2.8"/><circle cx="348.6" cy="354.3" r="2.8"/><circle cx="347.9" cy="362.9" r="2.8"/><circle cx="375.4" cy="338.6" r="2.8"/><circle cx="375.4" cy="339.3" r="2.8"/><circle cx="388.6" cy="302.6" r="2.8"/><circle cx="383.6" cy="319.3" r="2.8"/><circle cx="383.1" cy="333.6" r="2.8"/><circle cx="388.3" cy="342.1" r="2.8"/></g>
<g fill="#1066a2"><circle cx="250.4" cy="342.6" r="2.8"/><circle cx="249.7" cy="365.7" r="2.8"/><circle cx="249.7" cy="376.4" r="2.8"/><circle cx="253.3" cy="386.4" r="2.8"/><circle cx="253.3" cy="387.1" r="2.8"/><circle cx="251.1" cy="398.6" r="2.8"/><circle cx="251.1" cy="402.1" r="2.8"/><circle cx="251.1" cy="405.7" r="2.8"/><circle cx="251.9" cy="409.3" r="2.8"/><circle cx="251" cy="400.5" r="2.8"/><circle cx="259.4" cy="335" r="2.8"/><circle cx="259" cy="371.4" r="2.8"/><circle cx="260.4" cy="382.9" r="2.8"/><circle cx="261.9" cy="385" r="2.8"/><circle cx="261.1" cy="384.3" r="2.8"/><circle cx="260.4" cy="392.1" r="2.8"/><circle cx="260.4" cy="396.4" r="2.8"/><circle cx="260.4" cy="400.7" r="2.8"/><circle cx="260.4" cy="394.3" r="2.8"/><circle cx="277.1" cy="321.7" r="2.8"/><circle cx="277.6" cy="345.7" r="2.8"/><circle cx="275.4" cy="359.3" r="2.8"/><circle cx="277.6" cy="362.1" r="2.8"/><circle cx="279" cy="371.4" r="2.8"/><circle cx="278.3" cy="378.6" r="2.8"/><circle cx="277.6" cy="382.9" r="2.8"/><circle cx="278.3" cy="371.4" r="2.8"/><circle cx="278.3" cy="376.4" r="2.8"/><circle cx="277.6" cy="380.7" r="2.8"/><circle cx="277.6" cy="391.4" r="2.8"/><circle cx="295" cy="335.4" r="2.8"/><circle cx="294" cy="347.1" r="2.8"/><circle cx="295.4" cy="352.1" r="2.8"/><circle cx="296.1" cy="363.6" r="2.8"/><circle cx="295.4" cy="367.1" r="2.8"/><circle cx="295.1" cy="370" r="2.8"/><circle cx="295.4" cy="377.1" r="2.8"/><circle cx="295.7" cy="379.3" r="2.8"/><circle cx="295.4" cy="371.4" r="2.8"/><circle cx="295.7" cy="377.9" r="2.8"/><circle cx="312.6" cy="305.4" r="2.8"/><circle cx="313.1" cy="328.9" r="2.8"/><circle cx="311.4" cy="340" r="2.8"/><circle cx="313.6" cy="356.4" r="2.8"/><circle cx="314.3" cy="359.3" r="2.8"/><circle cx="313.1" cy="374.3" r="2.8"/><circle cx="311.9" cy="373.6" r="2.8"/><circle cx="348.1" cy="296.9" r="2.8"/><circle cx="348.1" cy="320" r="2.8"/><circle cx="345.7" cy="330.7" r="2.8"/><circle cx="348.6" cy="330.7" r="2.8"/><circle cx="351.4" cy="342.9" r="2.8"/><circle cx="348.6" cy="345.7" r="2.8"/><circle cx="345.7" cy="331.4" r="2.8"/><circle cx="347.9" cy="343.6" r="2.8"/><circle cx="352.9" cy="343.6" r="2.8"/><circle cx="348.6" cy="347.9" r="2.8"/><circle cx="350.7" cy="362.9" r="2.8"/><circle cx="375.3" cy="319.7" r="2.8"/><circle cx="375.7" cy="332.6" r="2.8"/><circle cx="375.4" cy="332.1" r="2.8"/><circle cx="388.3" cy="291.1" r="2.8"/><circle cx="383.6" cy="314.7" r="2.8"/><circle cx="385.7" cy="322.1" r="2.8"/><circle cx="383.6" cy="329.3" r="2.8"/><circle cx="383.6" cy="340" r="2.8"/><circle cx="384.3" cy="340" r="2.8"/><circle cx="384.3" cy="353.1" r="2.8"/><circle cx="295" cy="311.7" r="2.8"/></g>
<g fill="#aa3c0b"><circle cx="439.7" cy="339.3" r="2.8"/><circle cx="441.1" cy="347.9" r="2.8"/><circle cx="449.7" cy="323.6" r="2.8"/><circle cx="447.6" cy="344.3" r="2.8"/><circle cx="468.3" cy="315.7" r="2.8"/><circle cx="466.1" cy="322.1" r="2.8"/><circle cx="466.1" cy="335" r="2.8"/><circle cx="466.9" cy="342.9" r="2.8"/><circle cx="469.7" cy="347.9" r="2.8"/><circle cx="486.1" cy="306.4" r="2.8"/><circle cx="483.3" cy="327.9" r="2.8"/><circle cx="483.3" cy="333.6" r="2.8"/><circle cx="485.4" cy="337.1" r="2.8"/><circle cx="487.6" cy="340" r="2.8"/><circle cx="485.4" cy="347.9" r="2.8"/><circle cx="501.1" cy="329.3" r="2.8"/><circle cx="448.3" cy="345" r="2.8"/><circle cx="439" cy="356.1" r="2.8"/><circle cx="450.4" cy="353.6" r="2.8"/><circle cx="448.3" cy="359.3" r="2.8"/><circle cx="452.6" cy="358.6" r="2.8"/><circle cx="454" cy="361.4" r="2.8"/><circle cx="441.9" cy="364.3" r="2.8"/><circle cx="451.1" cy="366.4" r="2.8"/><circle cx="439.7" cy="371.4" r="2.8"/><circle cx="442.6" cy="370" r="2.8"/><circle cx="444" cy="372.9" r="2.8"/><circle cx="441.1" cy="373.6" r="2.8"/><circle cx="442.6" cy="378.6" r="2.8"/><circle cx="466.1" cy="335.7" r="2.8"/><circle cx="465.4" cy="343.6" r="2.8"/><circle cx="468.3" cy="343.6" r="2.8"/><circle cx="469" cy="348.6" r="2.8"/><circle cx="470.4" cy="350" r="2.8"/><circle cx="468.3" cy="355" r="2.8"/><circle cx="484.7" cy="337.1" r="2.8"/><circle cx="487.6" cy="340.7" r="2.8"/><circle cx="504.3" cy="299.9" r="2.8"/><circle cx="501.2" cy="313" r="2.8"/><circle cx="501.4" cy="328.4" r="2.8"/><circle cx="500.5" cy="329.4" r="2.8"/><circle cx="503.7" cy="331.5" r="2.8"/><circle cx="505.8" cy="333.6" r="2.8"/><circle cx="505.8" cy="337.3" r="2.8"/><circle cx="503.7" cy="339.9" r="2.8"/><circle cx="539.3" cy="290.6" r="2.8"/><circle cx="537.1" cy="305.6" r="2.8"/><circle cx="535.7" cy="320.6" r="2.8"/><circle cx="537.9" cy="322.7" r="2.8"/><circle cx="540.7" cy="320.6" r="2.8"/><circle cx="542.1" cy="327.7" r="2.8"/><circle cx="574.1" cy="285" r="2.8"/><circle cx="564.9" cy="297.9" r="2.8"/><circle cx="572" cy="311.4" r="2.8"/><circle cx="566.3" cy="315.7" r="2.8"/><circle cx="571.3" cy="316.4" r="2.8"/><circle cx="575.6" cy="315" r="2.8"/><circle cx="584.1" cy="320" r="2.8"/></g>
<g fill="#0d0d0d"><circle cx="438.3" cy="335" r="2.8"/><circle cx="439.7" cy="341.4" r="2.8"/><circle cx="441.9" cy="350.7" r="2.8"/><circle cx="449.7" cy="325.7" r="2.8"/><circle cx="450.4" cy="335" r="2.8"/><circle cx="451.1" cy="341.4" r="2.8"/><circle cx="466.1" cy="311.4" r="2.8"/><circle cx="466.9" cy="319.3" r="2.8"/><circle cx="468.3" cy="326.4" r="2.8"/><circle cx="469" cy="330.7" r="2.8"/><circle cx="484" cy="292.9" r="2.8"/><circle cx="484" cy="303.6" r="2.8"/><circle cx="484" cy="314.3" r="2.8"/><circle cx="486.1" cy="320" r="2.8"/><circle cx="487.6" cy="321.4" r="2.8"/><circle cx="501.1" cy="310.7" r="2.8"/><circle cx="441.9" cy="351.4" r="2.8"/><circle cx="439.7" cy="344.3" r="2.8"/><circle cx="450.4" cy="340.7" r="2.8"/><circle cx="442.6" cy="341.4" r="2.8"/><circle cx="500.7" cy="299.1" r="2.8"/><circle cx="501.4" cy="309.9" r="2.8"/><circle cx="502.9" cy="317" r="2.8"/><circle cx="538.6" cy="277" r="2.8"/><circle cx="536.4" cy="290.6" r="2.8"/><circle cx="537.1" cy="307" r="2.8"/><circle cx="542.1" cy="308.4" r="2.8"/><circle cx="538.6" cy="311.3" r="2.8"/><circle cx="542.7" cy="308.6" r="2.8"/><circle cx="573.7" cy="272.1" r="2.8"/><circle cx="564.9" cy="280.4" r="2.8"/><circle cx="575.6" cy="278.6" r="2.8"/><circle cx="567" cy="289.3" r="2.8"/><circle cx="572" cy="287.1" r="2.8"/><circle cx="574.9" cy="290" r="2.8"/><circle cx="572" cy="302.1" r="2.8"/><circle cx="574.1" cy="306.4" r="2.8"/><circle cx="568.4" cy="309" r="2.8"/><circle cx="584.9" cy="304.3" r="2.8"/><circle cx="466.1" cy="297.1" r="2.8"/><circle cx="484.7" cy="292.1" r="2.8"/><circle cx="484" cy="302.9" r="2.8"/><circle cx="466.1" cy="310" r="2.8"/><circle cx="505.8" cy="312.1" r="2.8"/><circle cx="502.6" cy="318.9" r="2.8"/></g>
<g fill="#1066a2"><circle cx="439.7" cy="327.9" r="2.8"/><circle cx="438.5" cy="329" r="2.8"/><circle cx="441.9" cy="325.7" r="2.8"/><circle cx="440.4" cy="335" r="2.8"/><circle cx="443.3" cy="315.7" r="2.8"/><circle cx="445.4" cy="315" r="2.8"/><circle cx="441.1" cy="320" r="2.8"/><circle cx="444.7" cy="319.3" r="2.8"/><circle cx="449.7" cy="305" r="2.8"/><circle cx="451.9" cy="307.9" r="2.8"/><circle cx="449" cy="317.9" r="2.8"/><circle cx="452.6" cy="318.6" r="2.8"/><circle cx="466.9" cy="292.1" r="2.8"/><circle cx="469" cy="295.7" r="2.8"/><circle cx="465.4" cy="300" r="2.8"/><circle cx="467.6" cy="304.3" r="2.8"/><circle cx="466" cy="303" r="2.8"/><circle cx="484.7" cy="294.3" r="2.8"/><circle cx="486.1" cy="298.6" r="2.8"/><circle cx="501.1" cy="287.9" r="2.8"/><circle cx="502.1" cy="274.9" r="2.8"/><circle cx="504.3" cy="277" r="2.8"/><circle cx="502.1" cy="284.1" r="2.8"/><circle cx="501.4" cy="286.6" r="2.8"/><circle cx="503.6" cy="289.1" r="2.8"/><circle cx="506.4" cy="292.7" r="2.8"/><circle cx="501.4" cy="292.7" r="2.8"/><circle cx="541.4" cy="267" r="2.8"/><circle cx="537.1" cy="269.9" r="2.8"/><circle cx="536.4" cy="280.6" r="2.8"/><circle cx="542.1" cy="284.9" r="2.8"/><circle cx="535.7" cy="287" r="2.8"/><circle cx="542.7" cy="267.1" r="2.8"/><circle cx="542.7" cy="285" r="2.8"/><circle cx="575.6" cy="261" r="2.8"/><circle cx="573.4" cy="265" r="2.8"/><circle cx="564.9" cy="264.3" r="2.8"/><circle cx="567" cy="273.6" r="2.8"/><circle cx="569.9" cy="276.4" r="2.8"/><circle cx="572.7" cy="277.9" r="2.8"/><circle cx="570.6" cy="280.7" r="2.8"/><circle cx="572" cy="282.9" r="2.8"/><circle cx="585.6" cy="280.4" r="2.8"/><circle cx="485.4" cy="279.7" r="2.8"/><circle cx="484" cy="283.6" r="2.8"/><circle cx="483.3" cy="286.4" r="2.8"/><circle cx="487.6" cy="297.1" r="2.8"/><circle cx="468.3" cy="304.3" r="2.8"/></g>
<path d="M95.00 148.46 L98.00 146.75 L101.00 145.14 L103.99 143.63 L106.99 142.21 L109.99 140.86 L112.98 139.58 L115.98 138.37 L118.98 137.20 L121.98 136.09 L124.97 135.03 L127.97 134.01 L130.97 133.03 L133.97 132.08 L136.97 131.17 L139.96 130.29 L142.96 129.44 L145.96 128.62 L148.96 127.82 L151.95 127.05 L154.95 126.30 L157.95 125.58 L160.94 124.87 L163.94 124.18 L166.94 123.51 L169.94 122.86 L172.94 122.22 L175.93 121.60 L178.93 121.00 L181.93 120.40 L184.93 119.83 L187.92 119.26 L190.92 118.71 L193.92 118.17 L196.92 117.64 L199.91 117.12 L202.91 116.61 L205.91 116.11 L208.91 115.62 L211.90 115.15 L214.90 114.67" fill="none" stroke="#1066a2" stroke-width="2.9" stroke-linecap="round" stroke-linejoin="round"/>
<path d="M80.40 155.92 L83.83 153.05 L87.27 150.47 L90.70 148.14 L94.13 146.00 L97.56 144.03 L101.00 142.21 L104.43 140.51 L107.86 138.92 L111.29 137.42 L114.72 136.01 L118.16 134.67 L121.59 133.41 L125.02 132.20 L128.45 131.05 L131.89 129.95 L135.32 128.89 L138.75 127.88 L142.19 126.91 L145.62 125.97 L149.05 125.07 L152.48 124.20 L155.91 123.36 L159.35 122.54 L162.78 121.76 L166.21 120.99 L169.64 120.25 L173.08 119.53 L176.51 118.83 L179.94 118.15 L183.38 117.49 L186.81 116.84 L190.24 116.21 L193.67 115.60 L197.11 115.00 L200.54 114.41 L203.97 113.84 L207.40 113.28 L210.84 112.73 L214.27 112.20 L217.70 111.68" fill="none" stroke="#aa3c0b" stroke-width="2.9" stroke-linecap="round" stroke-linejoin="round"/>
<path d="M255.70 158.78 L256.81 156.82 L257.91 155.00 L259.02 153.30 L260.13 151.71 L261.24 150.21 L262.34 148.79 L263.45 147.45 L264.56 146.17 L265.67 144.96 L266.77 143.80 L267.88 142.69 L268.99 141.62 L270.10 140.60 L271.20 139.62 L272.31 138.67 L273.42 137.76 L274.53 136.87 L275.63 136.02 L276.74 135.20 L277.85 134.40 L278.96 133.62 L280.06 132.87 L281.17 132.14 L282.28 131.43 L283.39 130.73 L284.50 130.06 L285.60 129.40 L286.71 128.76 L287.82 128.14 L288.93 127.53 L290.03 126.93 L291.14 126.35 L292.25 125.78 L293.36 125.22 L294.46 124.68 L295.57 124.15 L296.68 123.62 L297.79 123.11 L298.89 122.61 L300.00 122.11" fill="none" stroke="#aa3c0b" stroke-width="2.9" stroke-linecap="round" stroke-linejoin="round"/>
<path d="M259.50 151.60 L263.00 147.00 L266.49 143.09 L269.99 139.70 L273.48 136.71 L276.98 134.03 L280.47 131.60 L283.97 129.38 L287.46 127.34 L290.95 125.45 L294.45 123.69 L297.94 122.04 L301.44 120.49 L304.94 119.03 L308.43 117.64 L311.93 116.33 L315.42 115.08 L318.92 113.89 L322.41 112.75 L325.90 111.67 L329.40 110.62 L332.89 109.62 L336.39 108.65 L339.88 107.72 L343.38 106.82 L346.88 105.95 L350.37 105.11 L353.87 104.30 L357.36 103.51 L360.86 102.74 L364.35 102.00 L367.85 101.28 L371.34 100.58 L374.84 99.89 L378.33 99.23 L381.82 98.58 L385.32 97.94 L388.81 97.33 L392.31 96.72 L395.81 96.13 L399.30 95.56" fill="none" stroke="#0d0d0d" stroke-width="2.9" stroke-linecap="round" stroke-linejoin="round"/>
<path d="M262.00 138.14 L265.01 134.77 L268.01 131.81 L271.02 129.17 L274.03 126.79 L277.04 124.62 L280.05 122.62 L283.05 120.78 L286.06 119.07 L289.07 117.47 L292.07 115.96 L295.08 114.55 L298.09 113.21 L301.10 111.94 L304.11 110.74 L307.11 109.59 L310.12 108.49 L313.13 107.44 L316.13 106.44 L319.14 105.47 L322.15 104.54 L325.16 103.65 L328.17 102.78 L331.17 101.95 L334.18 101.14 L337.19 100.36 L340.19 99.60 L343.20 98.87 L346.21 98.16 L349.22 97.47 L352.23 96.79 L355.23 96.14 L358.24 95.50 L361.25 94.88 L364.25 94.27 L367.26 93.68 L370.27 93.10 L373.28 92.54 L376.29 91.99 L379.29 91.45 L382.30 90.92" fill="none" stroke="#1066a2" stroke-width="2.9" stroke-linecap="round" stroke-linejoin="round"/>
<path d="M458.60 117.91 L461.66 115.29 L464.72 112.92 L467.77 110.76 L470.83 108.76 L473.89 106.91 L476.94 105.19 L480.00 103.58 L483.06 102.06 L486.12 100.63 L489.18 99.28 L492.23 97.99 L495.29 96.77 L498.35 95.60 L501.41 94.49 L504.46 93.42 L507.52 92.40 L510.58 91.41 L513.63 90.46 L516.69 89.55 L519.75 88.67 L522.81 87.81 L525.87 86.99 L528.92 86.19 L531.98 85.42 L535.04 84.67 L538.10 83.94 L541.15 83.23 L544.21 82.54 L547.27 81.87 L550.33 81.21 L553.38 80.58 L556.44 79.95 L559.50 79.35 L562.55 78.75 L565.61 78.18 L568.67 77.61 L571.73 77.06 L574.78 76.51 L577.84 75.98 L580.90 75.46" fill="none" stroke="#aa3c0b" stroke-width="2.9" stroke-linecap="round" stroke-linejoin="round"/>
<path d="M470.70 87.89 L473.43 86.26 L476.16 84.73 L478.89 83.29 L481.62 81.93 L484.35 80.64 L487.08 79.42 L489.81 78.25 L492.54 77.13 L495.27 76.06 L498.00 75.04 L500.73 74.06 L503.46 73.11 L506.19 72.20 L508.92 71.32 L511.65 70.47 L514.38 69.65 L517.11 68.86 L519.84 68.09 L522.57 67.34 L525.30 66.62 L528.03 65.91 L530.76 65.23 L533.49 64.56 L536.22 63.91 L538.95 63.28 L541.68 62.66 L544.41 62.06 L547.14 61.47 L549.87 60.90 L552.60 60.34 L555.33 59.79 L558.06 59.26 L560.79 58.73 L563.52 58.22 L566.25 57.71 L568.98 57.22 L571.71 56.73 L574.44 56.26 L577.17 55.79 L579.90 55.34" fill="none" stroke="#0d0d0d" stroke-width="2.9" stroke-linecap="round" stroke-linejoin="round"/>
<path d="M466.90 76.30 L469.76 74.38 L472.62 72.59 L475.48 70.92 L478.34 69.36 L481.20 67.88 L484.06 66.49 L486.92 65.17 L489.78 63.91 L492.64 62.71 L495.50 61.57 L498.36 60.48 L501.22 59.43 L504.08 58.42 L506.94 57.45 L509.80 56.52 L512.66 55.62 L515.52 54.75 L518.38 53.91 L521.24 53.10 L524.10 52.31 L526.96 51.54 L529.82 50.80 L532.68 50.08 L535.54 49.38 L538.40 48.70 L541.26 48.03 L544.12 47.39 L546.98 46.75 L549.84 46.14 L552.70 45.54 L555.56 44.95 L558.42 44.37 L561.28 43.81 L564.14 43.26 L567.00 42.73 L569.86 42.20 L572.72 41.68 L575.58 41.18 L578.44 40.68 L581.30 40.19" fill="none" stroke="#1066a2" stroke-width="2.9" stroke-linecap="round" stroke-linejoin="round"/>
<path d="M61.00 383.63 L64.44 379.54 L67.88 376.47 L71.32 374.01 L74.76 371.96 L78.20 370.20 L81.64 368.66 L85.08 367.29 L88.52 366.05 L91.96 364.93 L95.40 363.90 L98.84 362.95 L102.28 362.07 L105.72 361.25 L109.16 360.47 L112.60 359.75 L116.04 359.06 L119.48 358.41 L122.92 357.79 L126.36 357.20 L129.80 356.64 L133.24 356.10 L136.68 355.59 L140.12 355.09 L143.56 354.62 L147.00 354.16 L150.44 353.72 L153.88 353.29 L157.32 352.88 L160.76 352.48 L164.20 352.09 L167.64 351.72 L171.08 351.35 L174.52 351.00 L177.96 350.65 L181.40 350.32 L184.84 349.99 L188.28 349.68 L191.72 349.37 L195.16 349.06 L198.60 348.77" fill="none" stroke="#aa3c0b" stroke-width="2.9" stroke-linecap="round" stroke-linejoin="round"/>
<path d="M61.00 385.13 L64.44 381.04 L67.88 377.97 L71.32 375.51 L74.76 373.46 L78.20 371.70 L81.64 370.16 L85.08 368.79 L88.52 367.55 L91.96 366.43 L95.40 365.40 L98.84 364.45 L102.28 363.57 L105.72 362.75 L109.16 361.97 L112.60 361.25 L116.04 360.56 L119.48 359.91 L122.92 359.29 L126.36 358.70 L129.80 358.14 L133.24 357.60 L136.68 357.09 L140.12 356.59 L143.56 356.12 L147.00 355.66 L150.44 355.22 L153.88 354.79 L157.32 354.38 L160.76 353.98 L164.20 353.59 L167.64 353.22 L171.08 352.85 L174.52 352.50 L177.96 352.15 L181.40 351.82 L184.84 351.49 L188.28 351.18 L191.72 350.87 L195.16 350.56 L198.60 350.27" fill="none" stroke="#1066a2" stroke-width="2.9" stroke-linecap="round" stroke-linejoin="round"/>
<path d="M249.60 374.22 L253.07 369.45 L256.55 365.96 L260.02 363.20 L263.50 360.93 L266.98 358.99 L270.45 357.30 L273.93 355.81 L277.40 354.47 L280.88 353.25 L284.35 352.14 L287.82 351.11 L291.30 350.16 L294.77 349.27 L298.25 348.44 L301.73 347.66 L305.20 346.92 L308.68 346.22 L312.15 345.56 L315.62 344.93 L319.10 344.33 L322.57 343.75 L326.05 343.20 L329.52 342.67 L333.00 342.16 L336.48 341.68 L339.95 341.20 L343.43 340.75 L346.90 340.31 L350.38 339.88 L353.85 339.47 L357.33 339.07 L360.80 338.68 L364.28 338.31 L367.75 337.94 L371.23 337.58 L374.70 337.24 L378.18 336.90 L381.65 336.57 L385.12 336.25 L388.60 335.93" fill="none" stroke="#0d0d0d" stroke-width="2.9" stroke-linecap="round" stroke-linejoin="round"/>
<path d="M248.80 366.79 L252.30 361.87 L255.79 358.36 L259.29 355.64 L262.78 353.41 L266.28 351.52 L269.77 349.88 L273.26 348.44 L276.76 347.15 L280.25 345.98 L283.75 344.91 L287.25 343.93 L290.74 343.02 L294.24 342.17 L297.73 341.38 L301.23 340.64 L304.72 339.94 L308.22 339.27 L311.71 338.64 L315.21 338.04 L318.70 337.47 L322.20 336.93 L325.69 336.40 L329.19 335.90 L332.68 335.42 L336.18 334.96 L339.67 334.51 L343.17 334.08 L346.66 333.66 L350.16 333.26 L353.65 332.87 L357.14 332.49 L360.64 332.12 L364.13 331.77 L367.63 331.42 L371.12 331.08 L374.62 330.76 L378.12 330.44 L381.61 330.13 L385.11 329.82 L388.60 329.53" fill="none" stroke="#1066a2" stroke-width="2.9" stroke-linecap="round" stroke-linejoin="round"/>
<path d="M438.40 347.50 L442.05 343.07 L445.71 339.86 L449.37 337.35 L453.02 335.29 L456.67 333.53 L460.33 332.01 L463.99 330.66 L467.64 329.45 L471.29 328.36 L474.95 327.36 L478.61 326.44 L482.26 325.58 L485.91 324.79 L489.57 324.04 L493.23 323.34 L496.88 322.68 L500.53 322.06 L504.19 321.46 L507.85 320.90 L511.50 320.36 L515.15 319.85 L518.81 319.35 L522.47 318.88 L526.12 318.43 L529.77 317.99 L533.43 317.57 L537.09 317.16 L540.74 316.77 L544.39 316.39 L548.05 316.02 L551.71 315.66 L555.36 315.31 L559.01 314.98 L562.67 314.65 L566.33 314.33 L569.98 314.02 L573.63 313.72 L577.29 313.43 L580.95 313.14 L584.60 312.86" fill="none" stroke="#aa3c0b" stroke-width="2.9" stroke-linecap="round" stroke-linejoin="round"/>
<path d="M438.40 328.31 L442.05 323.45 L445.71 319.94 L449.37 317.19 L453.02 314.93 L456.67 313.01 L460.33 311.34 L463.99 309.86 L467.64 308.54 L471.29 307.34 L474.95 306.25 L478.61 305.24 L482.26 304.30 L485.91 303.43 L489.57 302.61 L493.23 301.85 L496.88 301.12 L500.53 300.44 L504.19 299.79 L507.85 299.17 L511.50 298.58 L515.15 298.02 L518.81 297.48 L522.47 296.96 L526.12 296.46 L529.77 295.98 L533.43 295.52 L537.09 295.08 L540.74 294.65 L544.39 294.23 L548.05 293.83 L551.71 293.44 L555.36 293.06 L559.01 292.69 L562.67 292.33 L566.33 291.98 L569.98 291.64 L573.63 291.31 L577.29 290.99 L580.95 290.68 L584.60 290.37" fill="none" stroke="#0d0d0d" stroke-width="2.9" stroke-linecap="round" stroke-linejoin="round"/>
<path d="M438.40 313.04 L442.05 308.26 L445.71 304.81 L449.37 302.11 L453.02 299.88 L456.67 297.99 L460.33 296.35 L463.99 294.90 L467.64 293.60 L471.29 292.42 L474.95 291.34 L478.61 290.35 L482.26 289.43 L485.91 288.57 L489.57 287.77 L493.23 287.02 L496.88 286.31 L500.53 285.63 L504.19 284.99 L507.85 284.39 L511.50 283.81 L515.15 283.25 L518.81 282.72 L522.47 282.21 L526.12 281.72 L529.77 281.25 L533.43 280.80 L537.09 280.36 L540.74 279.93 L544.39 279.52 L548.05 279.13 L551.71 278.74 L555.36 278.37 L559.01 278.01 L562.67 277.66 L566.33 277.31 L569.98 276.98 L573.63 276.65 L577.29 276.34 L580.95 276.03 L584.60 275.73" fill="none" stroke="#1066a2" stroke-width="2.9" stroke-linecap="round" stroke-linejoin="round"/>
</svg>
</body></html>
